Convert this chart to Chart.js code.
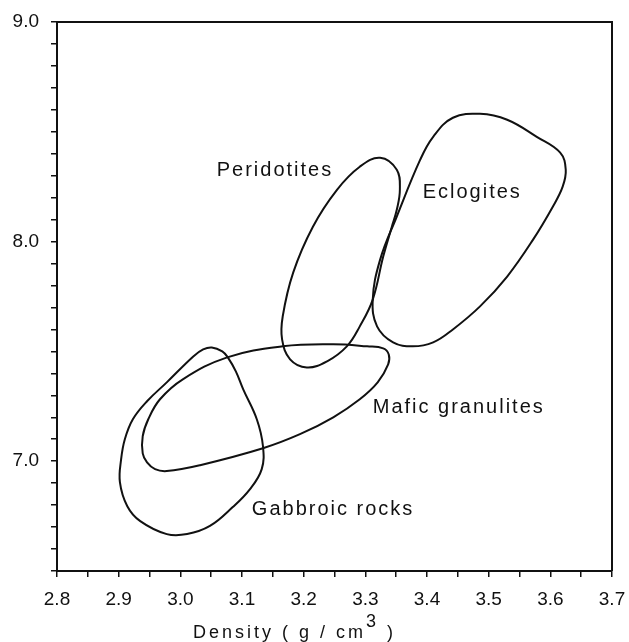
<!DOCTYPE html>
<html>
<head>
<meta charset="utf-8">
<script src="https://cdn.jsdelivr.net/npm/chart.js@4/dist/chart.umd.min.js"></script>
<style>
html,body{margin:0;padding:0;background:#fff;}
#wrap{width:629px;height:642px;position:relative;}
</style>
</head>
<body>
<div id="wrap"><canvas id="c" width="629" height="642"></canvas></div>
<script>
// ---- data (density g/cm3, velocity) ----
const peridotitesX = [3.324,3.351,3.356,3.351,3.343,3.329,3.312,3.291,3.270,3.238,3.205,3.178,3.165,3.166,3.183,3.215,3.254,3.291];
const peridotitesY = [8.382,8.327,8.236,8.145,8.068,7.932,7.736,7.614,7.523,7.455,7.427,7.464,7.555,7.659,7.859,8.068,8.236,8.341];

const eclogitesX = [3.486,3.530,3.578,3.616,3.625,3.620,3.604,3.572,3.530,3.486,3.442,3.410,3.377,3.345,3.319,3.312,3.324,3.351,3.389,3.410,3.442];
const eclogitesY = [8.582,8.555,8.477,8.405,8.327,8.250,8.159,8.009,7.841,7.705,7.600,7.541,7.523,7.541,7.614,7.736,7.918,8.114,8.373,8.477,8.564];

const maficX = [2.939,2.946,2.959,2.978,3.032,3.134,3.194,3.248,3.291,3.320,3.337,3.338,3.329,3.303,3.248,3.166,3.076,3.004,2.967,2.948,2.939];
const maficY = [7.036,6.995,6.964,6.955,6.982,7.059,7.123,7.200,7.282,7.359,7.441,7.486,7.514,7.523,7.532,7.523,7.473,7.373,7.282,7.191,7.114];

const gabbroX = [3.051,3.068,3.077,3.090,3.102,3.124,3.134,3.132,3.113,3.085,3.048,3.011,2.978,2.935,2.914,2.902,2.904,2.910,2.923,2.946,2.978,3.021,3.037];
const gabbroY = [7.518,7.500,7.473,7.409,7.327,7.191,7.068,6.964,6.873,6.791,6.705,6.668,6.668,6.727,6.795,6.905,7.009,7.100,7.191,7.273,7.359,7.477,7.509];

const regionNames = ['Peridotites','Eclogites','Mafic granulites','Gabbroic rocks'];
const regionLabelX = [3.059, 3.393, 3.312, 3.116];
const regionLabelY = [8.323, 8.223, 7.245, 6.782];

const xMin = 2.8, xMax = 3.7, xStep = 0.05;
const yMin = 6.5, yMax = 9.0, yStep = 0.1;
const xTitleParts = ['Density ( g / cm', '3', ' )'];
const xTitleAnchor = 3.185;

function pts(xs, ys){ return xs.map((x,i)=>({x:x, y:ys[i]})); }

const FONT = '"Liberation Sans", Arial, sans-serif';
Chart.defaults.font.family = FONT;
Chart.defaults.color = '#111';

const shapeStyle = {borderColor:'#111', borderWidth:2, pointRadius:0, tension:0.4, fill:false, spanGaps:true};

const loopPlugin = {
  id:'loop',
  afterDatasetUpdate(chart, args){
    const line = args.meta.dataset;
    if (line){ line._loop = true; line._fullLoop = true; }
  }
};

const decoPlugin = {
  id:'deco',
  afterDraw(chart){
    const ctx = chart.ctx, a = chart.chartArea, xs = chart.scales.x, ys = chart.scales.y;
    ctx.save();
    ctx.strokeStyle = '#111'; ctx.lineWidth = 2;
    ctx.beginPath();
    ctx.moveTo(a.left, a.top); ctx.lineTo(a.right, a.top); ctx.lineTo(a.right, a.bottom);
    ctx.stroke();
    ctx.fillStyle = '#111';
    ctx.font = '20px ' + FONT;
    try { ctx.letterSpacing = '2px'; } catch(e){}
    ctx.textAlign = 'left'; ctx.textBaseline = 'middle';
    regionNames.forEach((t,i)=>{
      ctx.fillText(t, xs.getPixelForValue(regionLabelX[i]), ys.getPixelForValue(regionLabelY[i]));
    });
    // axis title
    ctx.font = '18px ' + FONT;
    try { ctx.letterSpacing = '3px'; } catch(e){}
    ctx.textBaseline = 'alphabetic';
    const w0 = ctx.measureText(xTitleParts[0]).width;
    const w1 = ctx.measureText(xTitleParts[1]).width;
    const w2 = ctx.measureText(xTitleParts[2]).width;
    let x = xs.getPixelForValue(xTitleAnchor) - (w0+w1+w2)/2;
    const base = a.bottom + 67;
    ctx.fillText(xTitleParts[0], x, base); x += w0;
    ctx.fillText(xTitleParts[1], x, base - 11); x += w1;
    ctx.fillText(xTitleParts[2], x, base);
    ctx.restore();
  }
};

new Chart(document.getElementById('c'), {
  type:'line',
  data:{
    datasets:[
      Object.assign({label:regionNames[0], data:pts(peridotitesX, peridotitesY)}, shapeStyle),
      Object.assign({label:regionNames[1], data:pts(eclogitesX, eclogitesY)}, shapeStyle),
      Object.assign({label:regionNames[2], data:pts(maficX, maficY)}, shapeStyle),
      Object.assign({label:regionNames[3], data:pts(gabbroX, gabbroY)}, shapeStyle)
    ]
  },
  options:{
    responsive:false,
    animation:false,
    events:[],
    layout:{padding:{top:22, right:17, bottom:0, left:0}},
    plugins:{legend:{display:false}, tooltip:{enabled:false}},
    scales:{
      x:{
        type:'linear', min:xMin, max:xMax,
        grid:{drawOnChartArea:false, drawTicks:true, tickLength:6, color:'#111', lineWidth:1.5},
        border:{display:true, color:'#111', width:2},
        ticks:{stepSize:xStep, autoSkip:false, maxRotation:0, padding:11, color:'#111', font:{size:19},
          callback:(v)=> (Math.round(v*100) % 10 === 0) ? v.toFixed(1) : ''},
        afterFit:(s)=>{ s.height = 71; s.paddingRight = 0; s.paddingLeft = 0; }
      },
      y:{
        type:'linear', min:yMin, max:yMax,
        grid:{drawOnChartArea:false, drawTicks:true, tickLength:6, color:'#111', lineWidth:1.5},
        border:{display:true, color:'#111', width:2},
        ticks:{stepSize:yStep, autoSkip:false, padding:12, color:'#111', font:{size:19},
          callback:(v)=> (Math.abs(v - Math.round(v)) < 1e-6) ? v.toFixed(1) : ''},
        afterFit:(s)=>{ s.width = 57; s.paddingTop = 0; s.paddingBottom = 0; }
      }
    }
  },
  plugins:[loopPlugin, decoPlugin]
});
</script>
</body>
</html>
